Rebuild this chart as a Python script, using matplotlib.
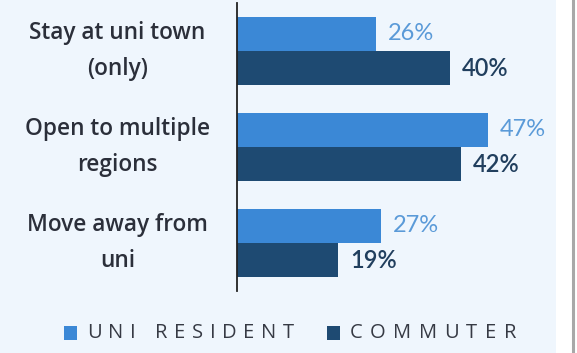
import matplotlib
matplotlib.use("Agg")
import matplotlib.pyplot as plt
from matplotlib.patches import Rectangle
from matplotlib.lines import Line2D

categories = ["Stay at uni town\n(only)", "Open to multiple\nregions", "Move away from\nuni"]
uni_resident = [26, 47, 27]
commuter = [40, 42, 19]
series_names = ["UNI RESIDENT", "COMMUTER"]

light = "#3b88d6"
dark = "#1e4a72"
light_txt = "#5a9ad8"
dark_txt = "#213f5e"
bg = "#eff6fd"

W, H = 577, 353
fig = plt.figure(figsize=(W / 100, H / 100), dpi=100)
fig.patch.set_facecolor("white")

# panel background and the thin frame line on the right
fig.patches.append(Rectangle((0, 0), 556 / W, 1, transform=fig.transFigure,
                             facecolor=bg, edgecolor="none", zorder=-5))
fig.lines.append(Line2D([572.5 / W, 572.5 / W], [0, 1], transform=fig.transFigure,
                        color="#a8a8a8", lw=2.2, zorder=-4))

left, right = 237 / W, 557 / W
top, bottom = 1 - 3 / H, 1 - 291 / H
ax = fig.add_axes([left, bottom, right - left, top - bottom])
ax.set_zorder(2)
ax.set_facecolor("none")

h = 0.355
ys = list(range(len(categories)))
ax.barh([y - h / 2 for y in ys], uni_resident, height=h, color=light, zorder=2)
ax.barh([y + h / 2 for y in ys], commuter, height=h, color=dark, zorder=2)

for y, v in zip(ys, uni_resident):
    ax.text(v + 2.2, y - h / 2, f"{v}%", va="center", ha="left",
            color=light_txt, fontsize=17, family="Lato")
for y, v in zip(ys, commuter):
    ax.text(v + 2.2, y + h / 2, f"{v}%", va="center", ha="left",
            color=dark_txt, fontsize=17, family="Lato", fontweight="semibold")

ax.set_xlim(0, 60)
ax.set_ylim(2.5, -0.5)
ax.set_yticks(ys)
ax.set_yticklabels(categories, fontsize=16.3, family="Open Sans",
                   fontweight="semibold", color="#2b2f3a", ha="center",
                   multialignment="center", linespacing=1.72)
ax.tick_params(axis="y", length=0, pad=86)
for lbl in ax.get_yticklabels():
    lbl.set_verticalalignment("center")
ax.set_xticks([])
for s in ["top", "right", "bottom"]:
    ax.spines[s].set_visible(False)
ax.spines["left"].set_color("#222222")
ax.spines["left"].set_linewidth(1.3)

# legend with letter-spaced capitals
renderer = fig.canvas.get_renderer()
ly = 1 - 333 / H


def tracked(x_px, s, tracking_px, size):
    x = x_px
    for ch in s:
        if ch == " ":
            x += 6 + tracking_px
            continue
        t = fig.text(x / W, ly, ch, va="center", ha="left", fontsize=size,
                     color="#363a44", family="Open Sans")
        x += t.get_window_extent(renderer).width + tracking_px


fig.patches.append(Rectangle((64 / W, ly - 7 / H), 13 / W, 14 / H,
                             transform=fig.transFigure, facecolor=light, edgecolor="none"))
tracked(87, series_names[0], 6.6, 14.5)
fig.patches.append(Rectangle((327 / W, ly - 7 / H), 13 / W, 14 / H,
                             transform=fig.transFigure, facecolor=dark, edgecolor="none"))
tracked(350, series_names[1], 7.4, 14.5)

fig.savefig("out.png", dpi=100)
